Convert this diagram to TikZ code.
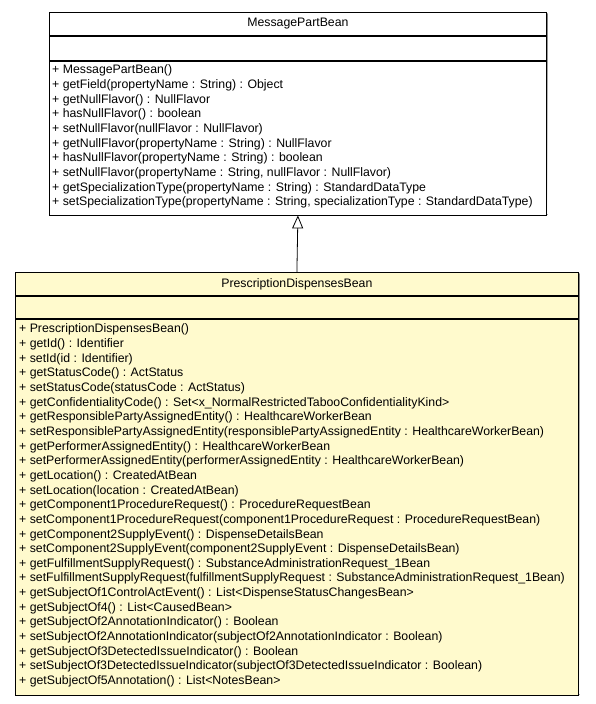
\documentclass[tikz,border=0pt]{standalone}
\usepackage{fontspec}
\setmainfont{Liberation Sans}
\usetikzlibrary{positioning,arrows.meta}
\definecolor{beanfill}{RGB}{255,250,205}
\definecolor{shade}{RGB}{150,150,150}

\tikzstyle{classpart}=[draw,line width=0.8pt,fill=white,anchor=north west,inner sep=0pt,font=\fontsize{12.3}{14.6}\selectfont]
\tikzstyle{oplist}=[anchor=north west,align=left,inner sep=0pt,font=\fontsize{12.3}{14.65}\selectfont]
\tikzstyle{inherit}=[draw,line width=0.8pt,-{Triangle[open,length=13pt,width=11pt]}]

\begin{document}
\begin{tikzpicture}[x=1pt, y=-1pt]
  \useasboundingbox (0,0) rectangle (595,704);

  % superclass
  \fill[shade] (50.5,13.5) rectangle (547.5,214.5);
  \node[classpart, minimum width=497, minimum height=23] (mpbname) at (49,12) {MessagePartBean};
  \node[classpart, minimum width=497, minimum height=24] (mpbattr) at (mpbname.south west) {};
  \node[classpart, minimum width=497, minimum height=154] (mpbops) at (mpbattr.south west) {};
  \node[oplist] (mpbtext) at ([xshift=3pt, yshift=-4.2pt]mpbops.north west) {%
    + MessagePartBean()\\
    + getField(propertyName : String) : Object\\
    + getNullFlavor() : NullFlavor\\
    + hasNullFlavor() : boolean\\
    + setNullFlavor(nullFlavor : NullFlavor)\\
    + getNullFlavor(propertyName : String) : NullFlavor\\
    + hasNullFlavor(propertyName : String) : boolean\\
    + setNullFlavor(propertyName : String, nullFlavor : NullFlavor)\\
    + getSpecializationType(propertyName : String) : StandardDataType\\
    + setSpecializationType(propertyName : String, specializationType : StandardDataType)};

  % subclass
  \fill[shade] (16.5,273.5) rectangle (579.5,694.5);
  \node[classpart, fill=beanfill, minimum width=563, minimum height=23] (pdbname) at (15,272) {PrescriptionDispensesBean};
  \node[classpart, fill=beanfill, minimum width=563, minimum height=22] (pdbattr) at (pdbname.south west) {};
  \node[classpart, fill=beanfill, minimum width=563, minimum height=376] (pdbops) at (pdbattr.south west) {};
  \node[oplist] (pdbtext) at ([xshift=4pt, yshift=-5.2pt]pdbops.north west) {%
    + PrescriptionDispensesBean()\\
    + getId() : Identifier\\
    + setId(id : Identifier)\\
    + getStatusCode() : ActStatus\\
    + setStatusCode(statusCode : ActStatus)\\
    + getConfidentialityCode() : Set<x\_NormalRestrictedTabooConfidentialityKind>\\
    + getResponsiblePartyAssignedEntity() : HealthcareWorkerBean\\
    + setResponsiblePartyAssignedEntity(responsiblePartyAssignedEntity : HealthcareWorkerBean)\\
    + getPerformerAssignedEntity() : HealthcareWorkerBean\\
    + setPerformerAssignedEntity(performerAssignedEntity : HealthcareWorkerBean)\\
    + getLocation() : CreatedAtBean\\
    + setLocation(location : CreatedAtBean)\\
    + getComponent1ProcedureRequest() : ProcedureRequestBean\\
    + setComponent1ProcedureRequest(component1ProcedureRequest : ProcedureRequestBean)\\
    + getComponent2SupplyEvent() : DispenseDetailsBean\\
    + setComponent2SupplyEvent(component2SupplyEvent : DispenseDetailsBean)\\
    + getFulfillmentSupplyRequest() : SubstanceAdministrationRequest\_1Bean\\
    + setFulfillmentSupplyRequest(fulfillmentSupplyRequest : SubstanceAdministrationRequest\_1Bean)\\
    + getSubjectOf1ControlActEvent() : List<DispenseStatusChangesBean>\\
    + getSubjectOf4() : List<CausedBean>\\
    + getSubjectOf2AnnotationIndicator() : Boolean\\
    + setSubjectOf2AnnotationIndicator(subjectOf2AnnotationIndicator : Boolean)\\
    + getSubjectOf3DetectedIssueIndicator() : Boolean\\
    + setSubjectOf3DetectedIssueIndicator(subjectOf3DetectedIssueIndicator : Boolean)\\
    + getSubjectOf5Annotation() : List<NotesBean>};

  % generalization
  \path[inherit] (pdbname.north) -- (mpbops.south);
\end{tikzpicture}
\end{document}
